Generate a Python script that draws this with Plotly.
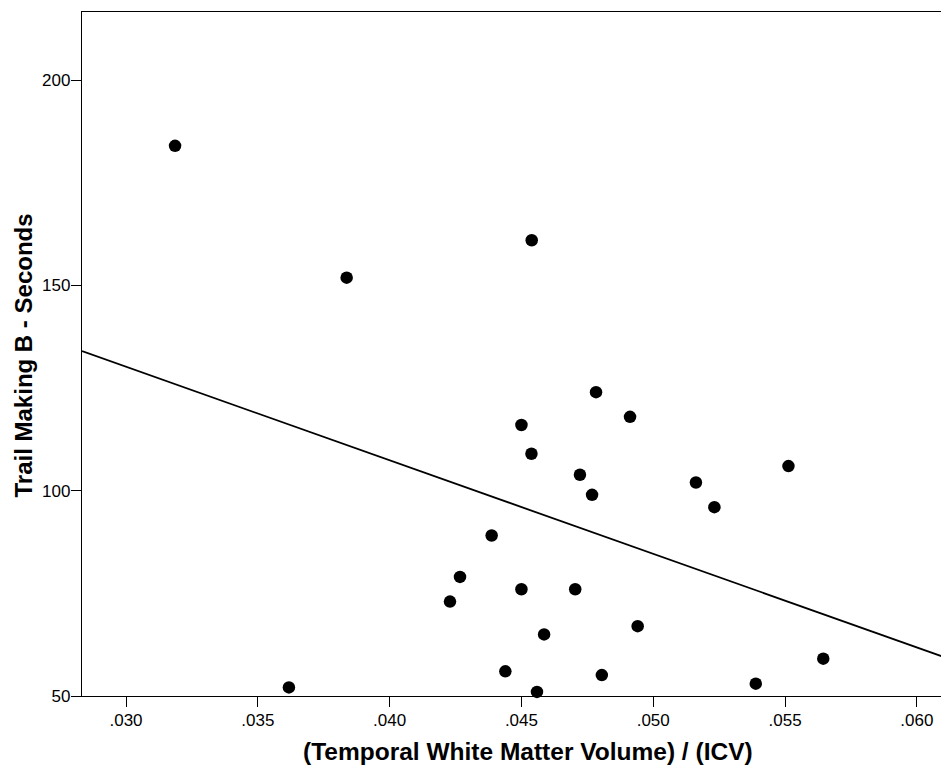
import plotly.graph_objects as go

# Scatter data: (Temporal White Matter Volume)/(ICV) vs Trail Making B seconds
wm_icv = [0.03186, 0.03837, 0.04539, 0.03618, 0.04783, 0.04912, 0.04500, 0.04538,
          0.04722, 0.04768, 0.05162, 0.05232, 0.05513, 0.04387, 0.04267, 0.04229,
          0.04500, 0.04704, 0.04586, 0.04941, 0.04439, 0.04559, 0.04805, 0.05389,
          0.05645]
trail_b = [184.0, 151.9, 161.0, 52.1, 124.0, 118.0, 116.0, 109.0,
           103.9, 99.0, 102.0, 96.0, 106.0, 89.1, 79.0, 73.0,
           76.0, 76.0, 65.0, 67.0, 56.0, 51.0, 55.1, 53.0,
           59.1]

# Fit line endpoints (as drawn across the plot)
fit_x = [0.02833, 0.06122]
fit_y = [134.0, 59.06]

x_ticks = [0.030, 0.035, 0.040, 0.045, 0.050, 0.055, 0.060]
x_tick_labels = [".030", ".035", ".040", ".045", ".050", ".055", ".060"]
y_ticks = [50, 100, 150, 200]
y_tick_labels = ["50", "100", "150", "200"]

FONT = "Liberation Sans, Arial, sans-serif"

fig = go.Figure()
fig.add_trace(go.Scatter(
    x=fit_x, y=fit_y, mode="lines",
    line=dict(color="black", width=1.8),
    showlegend=False, hoverinfo="skip", cliponaxis=True,
))
fig.add_trace(go.Scatter(
    x=wm_icv, y=trail_b, mode="markers",
    marker=dict(color="black", size=12.5, line=dict(width=0)),
    showlegend=False, cliponaxis=False,
))

# The page body has an 8px margin; size the figure so it fits the window exactly.
fig.update_layout(
    width=941, height=764,
    margin=dict(l=74, r=0, t=4, b=76),
    paper_bgcolor="white", plot_bgcolor="white",
    font=dict(family=FONT, color="black"),
    annotations=[
        dict(text="<b>(Temporal White Matter Volume) / (ICV)</b>",
             xref="paper", yref="paper", x=0.5144, y=0, yshift=-55,
             xanchor="center", yanchor="middle", showarrow=False,
             font=dict(family=FONT, size=24.5, color="black")),
        dict(text="<b>Trail Making B - Seconds</b>",
             xref="paper", yref="paper", x=0, xshift=-58, y=0.4978,
             xanchor="center", yanchor="middle", textangle=-90, showarrow=False,
             font=dict(family=FONT, size=24, color="black")),
    ],
)

fig.update_xaxes(
    range=[0.02833, 0.06122],
    tickvals=x_ticks, ticktext=x_tick_labels,
    ticks="outside", ticklen=10, tickwidth=1.3, tickcolor="black",
    showline=True, linecolor="black", linewidth=1.3, mirror=True,
    showgrid=False, zeroline=False, ticklabelstandoff=-2,
    tickfont=dict(family=FONT, size=17, color="black"),
)
fig.update_yaxes(
    range=[50, 216.6],
    tickvals=y_ticks, ticktext=y_tick_labels,
    ticks="outside", ticklen=10, tickwidth=1.3, tickcolor="black",
    showline=True, linecolor="black", linewidth=1.3, mirror=False,
    showgrid=False, zeroline=False, ticklabelstandoff=-3,
    tickfont=dict(family=FONT, size=17, color="black"),
)

fig.write_html("out.html")
